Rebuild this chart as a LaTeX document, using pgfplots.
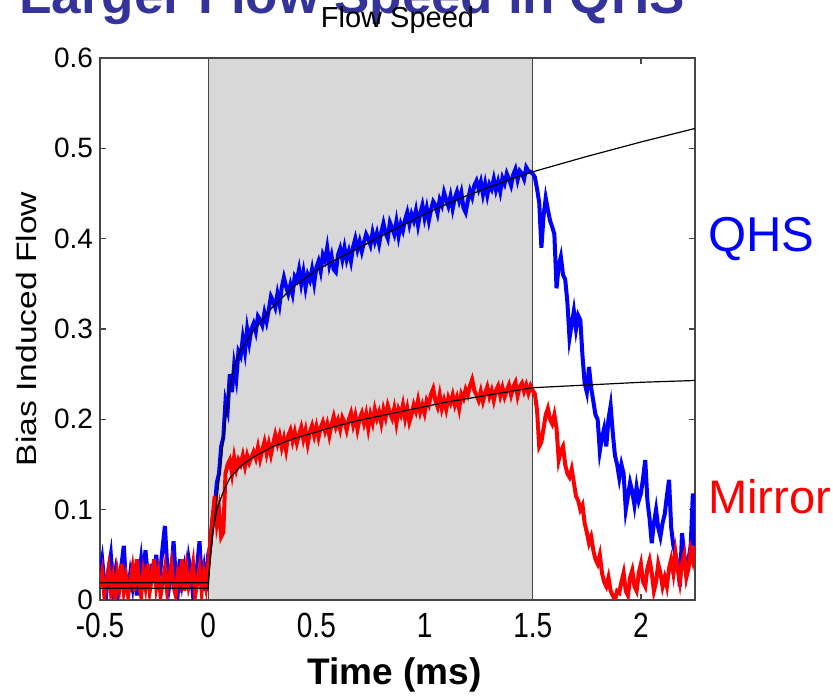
\documentclass[border=0pt]{standalone}
\usepackage{pgfplots}
\pgfplotsset{compat=1.18}
\usepackage{graphicx}
\usepackage{fontspec}
\setmainfont{Liberation Sans}
\definecolor{shade}{RGB}{216,216,216}
\definecolor{titleblue}{RGB}{51,51,153}
\definecolor{axgray}{RGB}{70,70,70}
\newcommand{\tk}{\fontsize{14}{16}\selectfont}
\begin{document}
\begin{tikzpicture}
\useasboundingbox (-50pt,-49.5pt) rectangle (366.5pt,300pt);
\node[anchor=base, text=titleblue, font=\fontsize{26.5}{30}\selectfont\bfseries] at (126pt,293pt) {Larger Flow Speed in QHS};
\begin{axis}[
  scale only axis,
  width=297.5pt, height=271pt,
  xmin=-0.5, xmax=2.25, ymin=0, ymax=0.6,
  axis line style={axgray, line width=0.8pt},
  tick style={axgray, line width=0.6pt},
  tick align=inside, major tick length=3pt,
  xtick pos=both, ytick pos=both,
  xtick={-0.5,0,0.5,1,1.5,2},
  xticklabels={\scalebox{1}[1.25]{-0.5},\scalebox{1}[1.25]{0},\scalebox{1}[1.25]{0.5},\scalebox{1}[1.25]{1},\scalebox{1}[1.25]{1.5},\scalebox{1}[1.25]{2}},
  ytick={0,0.1,0.2,0.3,0.4,0.5,0.6},
  yticklabels={0,0.1,0.2,0.3,0.4,0.5,0.6},
  ticklabel style={font=\tk},
  xticklabel style={yshift=-3pt},
  title={Flow Speed},
  title style={font=\fontsize{14.5}{16}\selectfont, at={(axis description cs:0.5,1)}, anchor=base, yshift=9pt},
  xlabel={Time (ms)},
  xlabel style={font=\fontsize{18.5}{20}\selectfont\bfseries, at={(axis description cs:0.495,0)}, anchor=center, yshift=-37.5pt},
  ylabel={\scalebox{1.2}[1]{Bias Induced Flow}},
  ylabel style={font=\fontsize{14}{16}\selectfont, at={(axis description cs:0,0.5)}, anchor=center, yshift=37pt},
  clip mode=individual,
]
\addplot[fill=shade, draw=axgray, line width=0.6pt] coordinates {(0,0) (0,0.6) (1.5,0.6) (1.5,0)} -- cycle;

% QHS data
\addplot[blue, line width=2pt] coordinates {
(-0.50,0.030) (-0.49,0.045) (-0.48,0.020) (-0.47,0.010) (-0.46,0.035) (-0.45,0.050) (-0.44,0.015) (-0.43,0.030) (-0.42,0.005) (-0.41,0.025)
(-0.40,0.040) (-0.39,0.060) (-0.38,0.020) (-0.37,0.010) (-0.36,0.030) (-0.35,0.015) (-0.34,0.040) (-0.33,0.005) (-0.32,0.025) (-0.31,0.045)
(-0.30,0.020) (-0.29,0.055) (-0.28,0.030) (-0.27,0.010) (-0.26,0.040) (-0.25,0.020) (-0.24,0.050) (-0.23,0.015) (-0.22,0.035) (-0.21,0.060)
(-0.20,0.082) (-0.19,0.040) (-0.18,0.015) (-0.17,0.030) (-0.16,0.065) (-0.15,0.025) (-0.14,0.010) (-0.13,0.045) (-0.12,0.020) (-0.11,0.035)
(-0.10,0.015) (-0.09,0.045) (-0.08,0.030) (-0.07,0.005) (-0.06,0.020) (-0.05,0.040) (-0.04,0.065) (-0.03,0.020) (-0.02,0.035) (-0.01,0.010) (0.00,0.050)
(0.01,0.060) (0.02,0.090) (0.03,0.100) (0.04,0.130) (0.05,0.140) (0.06,0.170) (0.07,0.180) (0.08,0.220) (0.09,0.210) (0.10,0.250)
(0.11,0.230) (0.12,0.260) (0.13,0.245) (0.14,0.275) (0.15,0.270) (0.16,0.290) (0.17,0.275) (0.18,0.300) (0.19,0.285) (0.20,0.300)
(0.21,0.306) (0.22,0.297) (0.23,0.314) (0.24,0.310) (0.25,0.304) (0.26,0.318) (0.27,0.308) (0.28,0.321) (0.29,0.336) (0.30,0.331)
(0.31,0.324) (0.32,0.339) (0.33,0.327) (0.34,0.346) (0.35,0.357) (0.36,0.347) (0.37,0.339) (0.38,0.349) (0.39,0.339) (0.40,0.358)
(0.41,0.354) (0.42,0.366) (0.43,0.350) (0.44,0.363) (0.45,0.346) (0.46,0.360) (0.47,0.354) (0.48,0.366) (0.49,0.351) (0.50,0.368)
(0.51,0.375) (0.52,0.364) (0.53,0.382) (0.54,0.376) (0.55,0.390) (0.56,0.371) (0.57,0.381) (0.58,0.366) (0.59,0.363) (0.60,0.382)
(0.61,0.389) (0.62,0.377) (0.63,0.390) (0.64,0.377) (0.65,0.386) (0.66,0.375) (0.67,0.391) (0.68,0.400) (0.69,0.388) (0.70,0.397)
(0.71,0.386) (0.72,0.396) (0.73,0.405) (0.74,0.400) (0.75,0.393) (0.76,0.407) (0.77,0.397) (0.78,0.406) (0.79,0.394) (0.80,0.407)
(0.81,0.417) (0.82,0.406) (0.83,0.400) (0.84,0.418) (0.85,0.412) (0.86,0.405) (0.87,0.419) (0.88,0.403) (0.89,0.416) (0.90,0.409)
(0.91,0.421) (0.92,0.429) (0.93,0.416) (0.94,0.427) (0.95,0.420) (0.96,0.431) (0.97,0.415) (0.98,0.428) (0.99,0.437) (1.00,0.423)
(1.01,0.434) (1.02,0.420) (1.03,0.432) (1.04,0.441) (1.05,0.437) (1.06,0.428) (1.07,0.443) (1.08,0.437) (1.09,0.451) (1.10,0.443)
(1.11,0.436) (1.12,0.447) (1.13,0.433) (1.14,0.445) (1.15,0.452) (1.16,0.442) (1.17,0.451) (1.18,0.434) (1.19,0.429) (1.20,0.442)
(1.21,0.453) (1.22,0.446) (1.23,0.459) (1.24,0.464) (1.25,0.455) (1.26,0.463) (1.27,0.449) (1.28,0.461) (1.29,0.448) (1.30,0.460)
(1.31,0.455) (1.32,0.466) (1.33,0.454) (1.34,0.463) (1.35,0.452) (1.36,0.467) (1.37,0.461) (1.38,0.472) (1.39,0.466) (1.40,0.459)
(1.41,0.471) (1.42,0.477) (1.43,0.465) (1.44,0.475) (1.45,0.472) (1.46,0.466) (1.47,0.479) (1.48,0.475) (1.49,0.474) (1.50,0.472)
(1.51,0.468) (1.52,0.455) (1.53,0.440) (1.54,0.390) (1.55,0.425) (1.56,0.445) (1.57,0.432) (1.58,0.420) (1.59,0.413) (1.60,0.405)
(1.61,0.345) (1.62,0.370) (1.63,0.380) (1.64,0.360) (1.65,0.355) (1.66,0.330) (1.67,0.290) (1.68,0.305) (1.69,0.320) (1.70,0.300)
(1.71,0.315) (1.72,0.310) (1.73,0.270) (1.74,0.240) (1.75,0.230) (1.76,0.258) (1.77,0.235) (1.78,0.220) (1.79,0.205) (1.80,0.200)
(1.81,0.165) (1.82,0.180) (1.83,0.190) (1.84,0.170) (1.85,0.200) (1.86,0.215) (1.87,0.185) (1.88,0.160) (1.89,0.150) (1.90,0.135)
(1.91,0.150) (1.92,0.140) (1.93,0.100) (1.94,0.115) (1.95,0.130) (1.96,0.120) (1.97,0.105) (1.98,0.125) (1.99,0.110) (2.00,0.118)
(2.01,0.135) (2.02,0.155) (2.03,0.110) (2.04,0.090) (2.05,0.063) (2.06,0.085) (2.07,0.100) (2.08,0.080) (2.09,0.070) (2.10,0.085)
(2.11,0.095) (2.12,0.115) (2.13,0.133) (2.14,0.080) (2.15,0.060) (2.16,0.050) (2.17,0.040) (2.18,0.015) (2.19,0.074) (2.20,0.050)
(2.21,0.030) (2.22,0.045) (2.23,0.060) (2.24,0.118) (2.25,0.060)
};

% Mirror data
\addplot[red, line width=2pt] coordinates {
(-0.50,0.015) (-0.49,0.030) (-0.48,0.005) (-0.47,0.020) (-0.46,0.035) (-0.45,0.010) (-0.44,0.025) (-0.43,0.000) (-0.42,0.030) (-0.41,0.015)
(-0.40,0.040) (-0.39,0.010) (-0.38,0.025) (-0.37,0.005) (-0.36,0.020) (-0.35,0.035) (-0.34,0.010) (-0.33,0.045) (-0.32,0.020) (-0.31,0.005)
(-0.30,0.030) (-0.29,0.015) (-0.28,0.040) (-0.27,0.010) (-0.26,0.025) (-0.25,0.045) (-0.24,0.015) (-0.23,0.030) (-0.22,0.005) (-0.21,0.020)
(-0.20,0.035) (-0.19,0.010) (-0.18,0.025) (-0.17,0.040) (-0.16,0.015) (-0.15,0.005) (-0.14,0.030) (-0.13,0.020) (-0.12,0.045) (-0.11,0.010)
(-0.10,0.035) (-0.09,0.015) (-0.08,0.025) (-0.07,0.040) (-0.06,0.005) (-0.05,0.020) (-0.04,0.035) (-0.03,0.010) (-0.02,0.030) (-0.01,0.015) (0.00,0.040)
(0.01,0.065) (0.02,0.090) (0.03,0.115) (0.04,0.085) (0.05,0.100) (0.06,0.070) (0.07,0.075) (0.08,0.140) (0.09,0.150) (0.10,0.155)
(0.11,0.140) (0.12,0.158) (0.13,0.145) (0.14,0.155) (0.15,0.150) (0.16,0.160) (0.17,0.148) (0.18,0.160) (0.19,0.152) (0.20,0.158)
(0.21,0.164) (0.22,0.157) (0.23,0.169) (0.24,0.156) (0.25,0.166) (0.26,0.175) (0.27,0.162) (0.28,0.173) (0.29,0.161) (0.30,0.173)
(0.31,0.183) (0.32,0.173) (0.33,0.182) (0.34,0.169) (0.35,0.179) (0.36,0.166) (0.37,0.182) (0.38,0.188) (0.39,0.176) (0.40,0.186)
(0.41,0.174) (0.42,0.183) (0.43,0.191) (0.44,0.178) (0.45,0.188) (0.46,0.173) (0.47,0.186) (0.48,0.193) (0.49,0.182) (0.50,0.192)
(0.51,0.180) (0.52,0.191) (0.53,0.197) (0.54,0.187) (0.55,0.195) (0.56,0.182) (0.57,0.194) (0.58,0.203) (0.59,0.192) (0.60,0.199)
(0.61,0.189) (0.62,0.202) (0.63,0.197) (0.64,0.188) (0.65,0.200) (0.66,0.207) (0.67,0.194) (0.68,0.204) (0.69,0.189) (0.70,0.201)
(0.71,0.207) (0.72,0.196) (0.73,0.206) (0.74,0.190) (0.75,0.205) (0.76,0.196) (0.77,0.211) (0.78,0.201) (0.79,0.208) (0.80,0.196)
(0.81,0.211) (0.82,0.202) (0.83,0.215) (0.84,0.207) (0.85,0.201) (0.86,0.212) (0.87,0.196) (0.88,0.211) (0.89,0.205) (0.90,0.216)
(0.91,0.201) (0.92,0.212) (0.93,0.197) (0.94,0.205) (0.95,0.216) (0.96,0.209) (0.97,0.221) (0.98,0.208) (0.99,0.216) (1.00,0.207)
(1.01,0.221) (1.02,0.216) (1.03,0.228) (1.04,0.234) (1.05,0.221) (1.06,0.214) (1.07,0.227) (1.08,0.212) (1.09,0.221) (1.10,0.211)
(1.11,0.224) (1.12,0.218) (1.13,0.227) (1.14,0.216) (1.15,0.224) (1.16,0.212) (1.17,0.228) (1.18,0.223) (1.19,0.233) (1.20,0.227)
(1.21,0.237) (1.22,0.244) (1.23,0.232) (1.24,0.227) (1.25,0.221) (1.26,0.231) (1.27,0.220) (1.28,0.229) (1.29,0.236) (1.30,0.225)
(1.31,0.232) (1.32,0.221) (1.33,0.232) (1.34,0.237) (1.35,0.226) (1.36,0.235) (1.37,0.225) (1.38,0.232) (1.39,0.238) (1.40,0.227)
(1.41,0.236) (1.42,0.241) (1.43,0.226) (1.44,0.236) (1.45,0.240) (1.46,0.231) (1.47,0.238) (1.48,0.229) (1.49,0.237) (1.50,0.232)
(1.51,0.228) (1.52,0.210) (1.53,0.170) (1.54,0.175) (1.55,0.190) (1.56,0.205) (1.57,0.212) (1.58,0.200) (1.59,0.195) (1.60,0.205)
(1.61,0.190) (1.62,0.155) (1.63,0.165) (1.64,0.170) (1.65,0.150) (1.66,0.140) (1.67,0.136) (1.68,0.145) (1.69,0.130) (1.70,0.115)
(1.71,0.110) (1.72,0.100) (1.73,0.105) (1.74,0.085) (1.75,0.075) (1.76,0.063) (1.77,0.070) (1.78,0.055) (1.79,0.045) (1.80,0.040)
(1.81,0.050) (1.82,0.030) (1.83,0.020) (1.84,0.015) (1.85,0.025) (1.86,0.010) (1.87,0.005) (1.88,0.000) (1.89,0.010) (1.90,0.008)
(1.91,0.020) (1.92,0.030) (1.93,0.010) (1.94,0.005) (1.95,0.025) (1.96,0.033) (1.97,0.015) (1.98,0.010) (1.99,0.030) (2.00,0.040)
(2.01,0.020) (2.02,0.015) (2.03,0.035) (2.04,0.044) (2.05,0.030) (2.06,0.010) (2.07,0.020) (2.08,0.040) (2.09,0.030) (2.10,0.015)
(2.11,0.025) (2.12,0.015) (2.13,0.035) (2.14,0.045) (2.15,0.030) (2.16,0.052) (2.17,0.035) (2.18,0.020) (2.19,0.040) (2.20,0.050)
(2.21,0.025) (2.22,0.035) (2.23,0.055) (2.24,0.044) (2.25,0.060)
};

% fits
\addplot[black, line width=0.6pt] coordinates {
(-0.5,0.019) (0,0.019) (0.02,0.070) (0.04,0.110) (0.06,0.155) (0.08,0.200) (0.10,0.235) (0.12,0.258) (0.14,0.272) (0.17,0.284) (0.20,0.295) (0.25,0.310) (0.30,0.325) (0.40,0.348) (0.50,0.365) (0.60,0.378) (0.70,0.390) (0.80,0.403) (0.90,0.415) (1.00,0.427) (1.10,0.438) (1.20,0.448) (1.30,0.457) (1.40,0.466) (1.50,0.474) (1.75,0.491) (2.00,0.507) (2.25,0.522)
};
\addplot[black, line width=0.6pt] coordinates {
(-0.5,0.013) (0,0.013) (0.01,0.050) (0.02,0.074) (0.04,0.100) (0.07,0.120) (0.10,0.135) (0.15,0.148) (0.20,0.157) (0.30,0.170) (0.40,0.179) (0.50,0.186) (0.60,0.193) (0.70,0.199) (0.80,0.204) (0.90,0.209) (1.00,0.214) (1.10,0.219) (1.20,0.223) (1.30,0.227) (1.40,0.231) (1.50,0.235) (1.75,0.238) (2.00,0.241) (2.25,0.243)
};

\node[anchor=west, inner sep=0pt, text=blue, font=\fontsize{24.5}{28}\selectfont, xshift=6.5pt] at (axis cs:2.25,0.4) {QHS};
\node[anchor=west, inner sep=0pt, text=red, font=\fontsize{23.5}{28}\selectfont, xshift=6.5pt] at (axis cs:2.25,0.114) {Mirror};
\end{axis}
\end{tikzpicture}
\end{document}
